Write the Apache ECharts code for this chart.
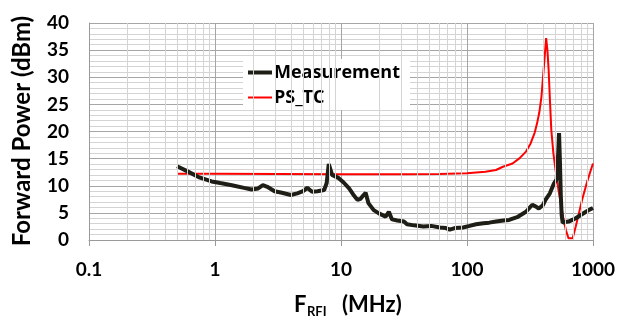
<!DOCTYPE html>
<html>
<head>
<meta charset="utf-8">
<script src="https://cdn.jsdelivr.net/npm/echarts@6/dist/echarts.min.js"></script>
<style>
  html, body { margin: 0; padding: 0; background: #fff; }
  #chart { width: 618px; height: 320px; }
</style>
</head>
<body>
<div id="chart"></div>
<script>
const FONT = "Lato";

// measured forward power, [MHz, dBm]
const measFreq = [0.5, 0.6, 0.74, 0.94, 1.1, 1.36, 1.7, 1.95, 2.2, 2.4, 2.6, 2.97, 3.4, 4.0, 4.5, 5.0, 5.4, 5.9, 6.5, 7.35, 7.7, 8.0, 8.3, 8.5, 9.6, 10.5, 11.6, 12.5, 13.5, 14.3, 15.0, 15.7, 16.5, 18.2, 20, 22.6, 24, 25.4, 28, 31.6, 33.4, 38, 45, 52, 61, 68, 73, 80, 93, 105, 118, 135, 150, 170, 195, 216, 250, 294, 330, 350, 372, 400, 420, 455, 490, 515, 530, 538, 546, 556, 565, 575, 600, 640, 700, 730, 800, 880, 940, 1000];
const measValue = [13.6, 12.7, 11.6, 10.8, 10.5, 10.1, 9.6, 9.3, 9.5, 10.1, 9.8, 9.0, 8.7, 8.3, 8.6, 9.0, 9.6, 8.9, 9.0, 9.2, 10.5, 14.0, 12.8, 12.0, 11.4, 10.6, 9.5, 8.4, 7.4, 7.6, 8.2, 8.7, 6.8, 5.5, 4.9, 4.3, 5.2, 3.8, 3.6, 3.4, 2.9, 2.7, 2.5, 2.6, 2.3, 2.2, 1.9, 2.2, 2.3, 2.6, 2.9, 3.1, 3.2, 3.4, 3.6, 3.7, 4.2, 5.2, 6.5, 6.2, 5.8, 6.4, 7.4, 8.6, 10.4, 11.2, 16.0, 19.7, 15.0, 8.0, 4.5, 3.2, 3.3, 3.4, 3.8, 4.0, 4.6, 5.2, 5.6, 5.9];

// PS_TC model
const modelFreq = [0.5, 1, 10, 30, 60, 100, 140, 170, 193, 230, 262, 294, 320, 345, 360, 375, 390, 410, 425, 435, 445, 456, 467, 485, 505, 530, 555, 580, 610, 640, 690, 730, 775, 820, 900, 1000];
const modelValue = [12.2, 12.2, 12.1, 12.1, 12.15, 12.3, 12.6, 12.9, 13.5, 14.1, 15.1, 16.3, 17.8, 19.8, 21.5, 23.5, 26.4, 32.6, 37.2, 35.0, 31.3, 25.5, 20.3, 16.0, 12.9, 9.5, 6.8, 4.2, 1.8, 0.3, 0.3, 2.5, 5.0, 7.4, 10.8, 14.1];

// minor log gridlines
const minorFreq = [];
[0.1, 1, 10, 100].forEach((d) => {
  for (let k = 2; k <= 9; k++) minorFreq.push(+(d * k).toPrecision(3));
});

const chart = echarts.init(document.getElementById("chart"), null, { renderer: "canvas" });

const zip = (xs, ys) => xs.map((x, i) => [x, ys[i]]);

// legend line swatches: thick black, thin red (same 24x4 box)
const thickIcon = "path://M0,0H24V4H0Z";
const thinIcon = "path://M0,0H24V0.01H0Z M0,1H24V3H0Z M0,3.99H24V4H0Z";

chart.setOption({
  animation: false,
  backgroundColor: "#fff",
  grid: { left: 89, right: 21, top: 23, bottom: 80 },
  legend: {
    data: [
      { name: "Measurement", icon: thickIcon },
      { name: "PS_TC", icon: thinIcon },
    ],
    orient: "vertical",
    left: 243,
    top: 60,
    padding: [3, 4, 3, 5],
    itemWidth: 24,
    itemHeight: 4,
    itemGap: 6,
    z: 5,
    textStyle: {
      fontFamily: "Open Sans",
      fontWeight: "bold",
      fontSize: 18,
      color: "#000",
      lineHeight: 19,
      padding: [0, 0, 0, -3],
    },
  },
  xAxis: {
    type: "log",
    logBase: 10,
    min: 0.1,
    max: 1000,
    axisLine: { show: true, lineStyle: { color: "#9a9a9a", width: 1 } },
    axisTick: { show: true, length: 6, lineStyle: { color: "#9a9a9a" } },
    splitLine: { show: true, lineStyle: { color: "#a6a6a6", width: 1 } },
    axisLabel: {
      margin: 20,
      fontFamily: FONT,
      fontWeight: "bold",
      fontSize: 19,
      color: "#000",
      formatter: (v) => String(+(+v).toPrecision(3)),
    },
  },
  yAxis: {
    type: "value",
    min: 0,
    max: 40,
    interval: 5,
    axisLine: { show: true, lineStyle: { color: "#9a9a9a", width: 1 } },
    axisTick: { show: false },
    splitLine: { show: true, lineStyle: { color: "#a6a6a6", width: 1 } },
    minorTick: { show: false, splitNumber: 5 },
    minorSplitLine: { show: true, lineStyle: { color: "#d4d4d4", width: 1 } },
    axisLabel: { margin: 20, fontFamily: FONT, fontWeight: "bold", fontSize: 19, color: "#000" },
  },
  graphic: [
    {
      // white legend box
      type: "rect",
      z: 2,
      shape: { x: 243, y: 59, width: 167, height: 51 },
      style: { fill: "#fff" },
      silent: true,
    },
    {
      type: "text",
      x: 22,
      y: 131,
      rotation: Math.PI / 2,
      style: {
        text: "Forward Power (dBm)",
        fontFamily: FONT,
        fontSize: 24,
        fontWeight: "bold",
        fill: "#000",
        align: "center",
        verticalAlign: "middle",
      },
    },
    {
      type: "text",
      x: 294,
      y: 316,
      style: { text: "F", fontFamily: FONT, fontSize: 22, fontWeight: "bold", fill: "#000", align: "left", verticalAlign: "bottom" },
    },
    {
      type: "text",
      x: 307,
      y: 305,
      style: { text: "RFI", fontFamily: FONT, fontSize: 13, fontWeight: "bold", fill: "#000", align: "left", verticalAlign: "top" },
    },
    {
      type: "text",
      x: 342,
      y: 316,
      style: { text: "(MHz)", fontFamily: FONT, fontSize: 22, fontWeight: "bold", fill: "#000", align: "left", verticalAlign: "bottom" },
    },
  ],
  series: [
    {
      name: "grid",
      type: "line",
      data: [],
      silent: true,
      z: 1,
      markLine: {
        silent: true,
        symbol: "none",
        label: { show: false },
        lineStyle: { color: "#d4d4d4", type: "solid", width: 1 },
        data: minorFreq.map((f) => ({ xAxis: f })),
      },
    },
    {
      name: "Measurement",
      type: "line",
      data: zip(measFreq, measValue),
      symbol: "none",
      z: 4,
      lineStyle: { color: "#1e1e16", width: 4 },
      itemStyle: { color: "#1e1e16" },
    },
    {
      name: "PS_TC",
      type: "line",
      data: zip(modelFreq, modelValue),
      symbol: "none",
      z: 3,
      lineStyle: { color: "#ff0000", width: 2 },
      itemStyle: { color: "#ff0000" },
    },
  ],
});
</script>
</body>
</html>
